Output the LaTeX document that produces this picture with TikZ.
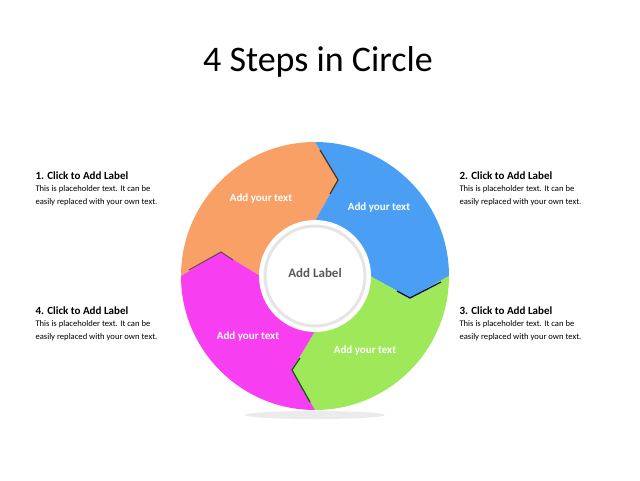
\documentclass[tikz,border=0pt]{standalone}
\usepackage{fontspec}
\setmainfont{Carlito}
\begin{document}
\begin{tikzpicture}[x=1pt,y=1pt,
  seg/.style={draw=none},
  segtext/.style={text=white,font=\bfseries\fontsize{11}{13}\selectfont},
  head/.style={anchor=west,font=\bfseries\fontsize{11}{13}\selectfont},
  body/.style={anchor=north west,align=left,font=\fontsize{8.6}{12.6}\selectfont}]
\definecolor{cor}{HTML}{F9A066}
\definecolor{cbl}{HTML}{4A9FF5}
\definecolor{cgr}{HTML}{9EE85A}
\definecolor{cmg}{HTML}{F73EF0}
\useasboundingbox (0,0) rectangle (640,-480);
\node (title) at (318,-62) {\fontsize{36}{40}\selectfont 4 Steps in Circle};
\fill[black!8] (315,-415) ellipse (70 and 4);
\begin{scope}[shift={(315,-276)}]
\fill[cor] (-134,0) arc[start angle=180,end angle=90,radius=134] -- (23,96) -- (0,55) arc[start angle=90,end angle=180,radius=55] -- (-94,24) -- cycle;
\fill[cbl] (0,134) arc[start angle=90,end angle=0,radius=134] -- (95,-22) -- (55,0) arc[start angle=0,end angle=90,radius=55] -- (23,96) -- cycle;
\fill[cgr] (134,0) arc[start angle=0,end angle=-90,radius=134] -- (-23,-94) -- (0,-55) arc[start angle=-90,end angle=0,radius=55] -- (95,-22) -- cycle;
\fill[cmg] (0,-134) arc[start angle=-90,end angle=-180,radius=134] -- (-94,24) -- (-55,0) arc[start angle=180,end angle=270,radius=55] -- (-23,-94) -- cycle;
\draw[black!60!brown,line width=1.2] (5,126) -- (23,96) -- (15,82);
\draw[black!70!blue,line width=1.2] (126,-6) -- (95,-22) -- (82,-15);
\draw[black!60!green,line width=1.2] (-5,-126) -- (-23,-94) -- (-15,-82);
\draw[black!60!magenta,line width=1.2] (-126,6) -- (-94,24) -- (-82,16);
\fill[white] (0,0) circle (56);
\draw[black!10,line width=3] (0,0) circle (50);
\fill[white] (0,0) circle (46);
\node[text=black!65,font=\bfseries\fontsize{13}{15}\selectfont] (center) at (0,3) {Add Label};
\end{scope}
\node[segtext] (t1) at (261,-199) {Add your text};
\node[segtext] (t2) at (379,-208) {Add your text};
\node[segtext] (t3) at (365,-350) {Add your text};
\node[segtext] (t4) at (248,-336) {Add your text};
\node[head] (h1) at (32,-176) {1. Click to Add Label};
\node[body] (b1) at (32,-182) {This is placeholder  text. It can be\\easily replaced  with your own text.};
\node[head] (h2) at (456,-176) {2. Click to Add Label};
\node[body] (b2) at (456,-182) {This is placeholder  text. It can be\\easily replaced  with your own text.};
\node[head] (h3) at (456,-311) {3. Click to Add Label};
\node[body] (b3) at (456,-317) {This is placeholder  text. It can be\\easily replaced  with your own text.};
\node[head] (h4) at (32,-311) {4. Click to Add Label};
\node[body] (b4) at (32,-317) {This is placeholder  text. It can be\\easily replaced  with your own text.};
\end{tikzpicture}
\end{document}
